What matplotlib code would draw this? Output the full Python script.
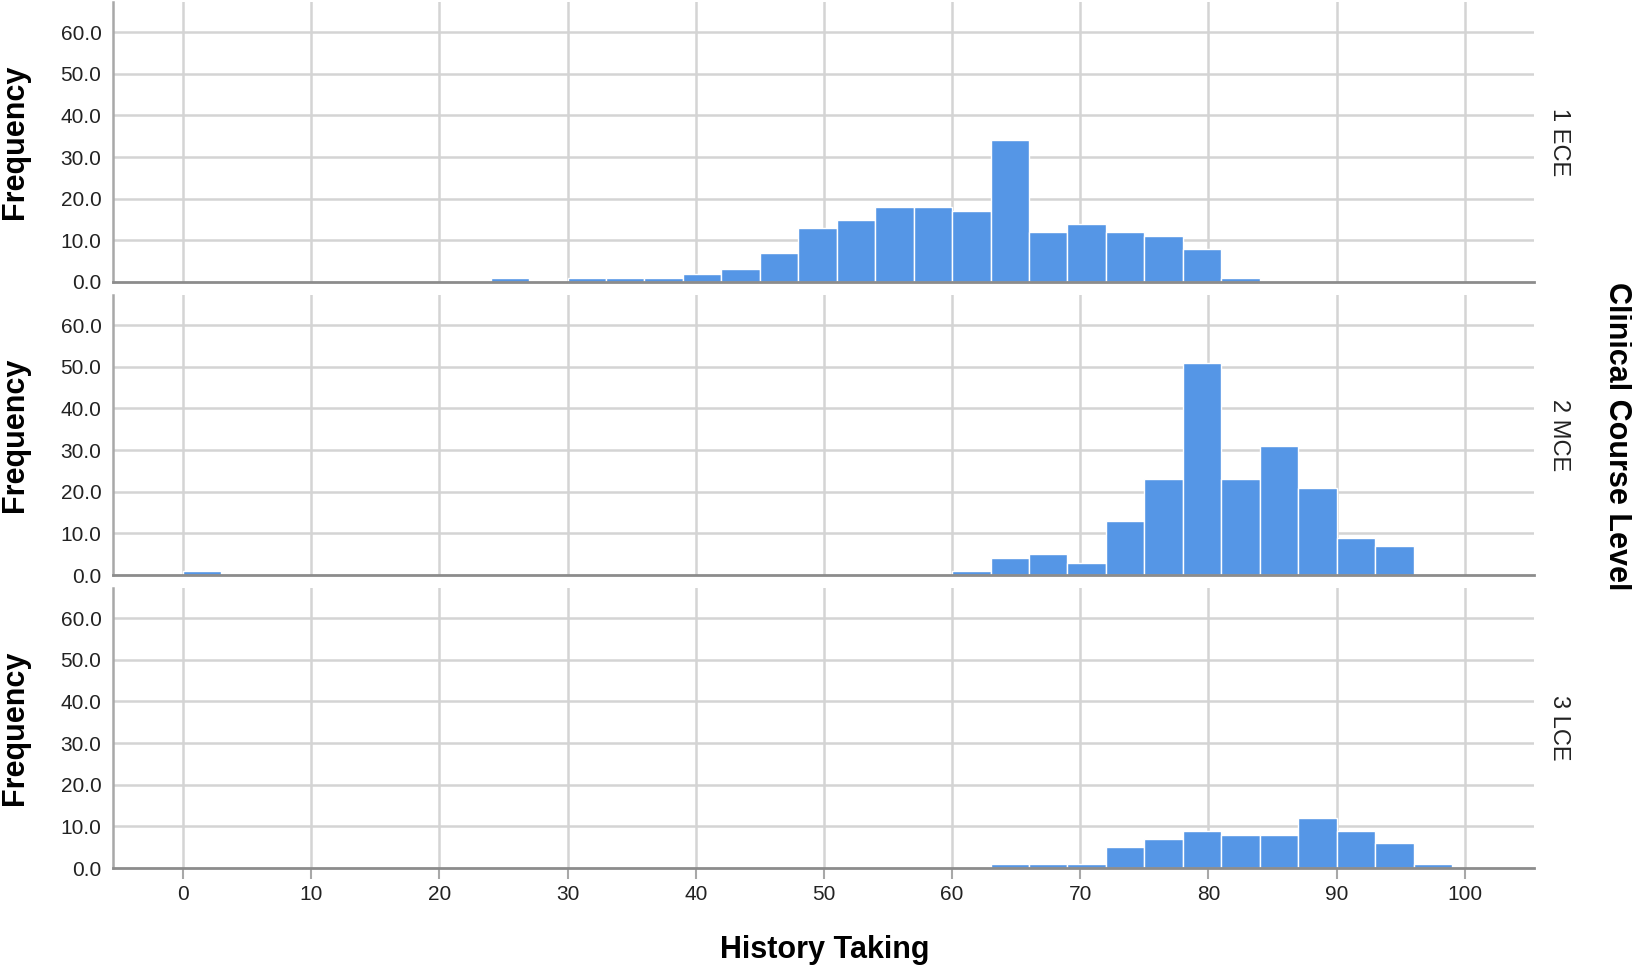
import numpy as np
from matplotlib import pyplot as plt

plt.rcParams['font.family'] = ['Liberation Sans', 'DejaVu Sans']

# bin width 3, left edges
bin_width = 3
ece_left = [24, 30, 33, 36, 39, 42, 45, 48, 51, 54, 57, 60, 63, 66, 69, 72, 75, 78, 81]
ece_count = [1, 1, 1, 1, 2, 3, 7, 13, 15, 18, 18, 17, 34, 12, 14, 12, 11, 8, 1]

mce_left = [0, 60, 63, 66, 69, 72, 75, 78, 81, 84, 87, 90, 93]
mce_count = [1, 1, 4, 5, 3, 13, 23, 51, 23, 31, 21, 9, 7]

lce_left = [63, 66, 69, 72, 75, 78, 81, 84, 87, 90, 93, 96]
lce_count = [1, 1, 1, 5, 7, 9, 8, 8, 12, 9, 6, 1]

panel_names = ['1 ECE', '2 MCE', '3 LCE']
x_ticks = [0, 10, 20, 30, 40, 50, 60, 70, 80, 90, 100]
y_ticks = [0, 10, 20, 30, 40, 50, 60]

bar_color = '#5596e6'
grid_color = '#d4d4d4'
axis_color = '#8c8c8c'

fig = plt.figure(figsize=(16.33, 9.69), dpi=100)
left, width = 0.0689, 0.8705
bottoms = [0.709, 0.4066, 0.1042]
height = 0.289

panels = [(ece_left, ece_count), (mce_left, mce_count), (lce_left, lce_count)]
for i, (lefts, counts) in enumerate(panels):
    ax = fig.add_axes([left, bottoms[i], width, height])
    ax.set_xlim(-5.5, 105.4)
    ax.set_ylim(0, 67.25)
    ax.set_axisbelow(True)
    for xv in x_ticks:
        ax.axvline(xv, color=grid_color, lw=1.8, zorder=0)
    for yv in y_ticks[1:]:
        ax.axhline(yv, color=grid_color, lw=1.8, zorder=0)
    ax.bar(lefts, counts, width=bin_width, align='edge', color=bar_color,
           edgecolor='white', linewidth=1.0, zorder=2)
    ax.spines['top'].set_visible(False)
    ax.spines['right'].set_visible(False)
    ax.spines['bottom'].set_color(axis_color)
    ax.spines['bottom'].set_linewidth(2)
    ax.spines['bottom'].set_zorder(3)
    ax.spines['left'].set_color('#a8a8a8')
    ax.spines['left'].set_linewidth(1.8)
    ax.set_yticks(y_ticks)
    ax.set_yticklabels(['%.1f' % v for v in y_ticks])
    ax.tick_params(axis='y', length=0, labelsize=15, pad=8, labelcolor='#222222')
    ax.set_xticks(x_ticks)
    if i == 2:
        ax.set_xticklabels([str(v) for v in x_ticks])
        ax.tick_params(axis='x', length=8, width=1.5, color='#a8a8a8',
                       labelsize=15, pad=4, labelcolor='#222222')
    else:
        ax.set_xticklabels([])
        ax.tick_params(axis='x', length=0)
    ax.set_ylabel('Frequency', fontsize=22, fontweight='bold', labelpad=22)
    ax.text(1.0176, 0.5, panel_names[i], transform=ax.transAxes, rotation=-90,
            fontsize=17, ha='center', va='center', color='#222222')

fig.text(0.505, 0.02, 'History Taking', fontsize=22, fontweight='bold',
         ha='center', va='center')
fig.text(0.99, 0.55, 'Clinical Course Level', fontsize=22, fontweight='bold',
         rotation=-90, ha='center', va='center')

fig.savefig('out.png', dpi=100)
